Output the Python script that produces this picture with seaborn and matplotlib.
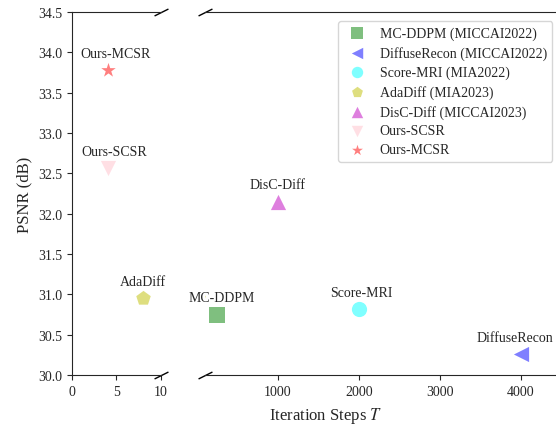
import matplotlib
matplotlib.use('Agg')
import matplotlib.pyplot as plt
import seaborn as sns

# Data
methods = ['MC-DDPM', 'DiffuseRecon', 'Score-MRI', 'AdaDiff', 'DisC-Diff', 'Ours-SCSR', 'Ours-MCSR']
venues = ['MICCAI2022', 'MICCAI2022', 'MIA2022', 'MIA2023', 'MICCAI2023', '', '']
steps = [250, 4000, 2000, 8, 1000, 4, 4]
psnr = [30.75, 30.26, 30.82, 30.95, 32.15, 32.57, 33.78]

colors = ['g', 'b', 'cyan', 'y', 'm', 'pink', 'red']
markers = ['s', '<', 'o', 'p', '^', 'v', '*']
label_dx = [3, -4, 2, 0, 0, 5, 6]

sns.set_style('ticks')
plt.rcParams['font.family'] = ['Liberation Serif', 'DejaVu Serif']
plt.rcParams['mathtext.fontset'] = 'stix'
plt.rcParams['xtick.labelsize'] = 10
plt.rcParams['ytick.labelsize'] = 10

fig = plt.figure(figsize=(5.56, 4.27), dpi=100)
ax1 = fig.add_axes([0.1295, 0.1194, 0.160, 0.850])
ax2 = fig.add_axes([0.3687, 0.1194, 0.641, 0.850], sharey=ax1)

for ax in (ax1, ax2):
    for i, name in enumerate(methods):
        lab = f'{name} ({venues[i]})' if venues[i] else name
        sns.scatterplot(x=[steps[i]], y=[psnr[i]], ax=ax, marker=markers[i],
                        color=colors[i], s=120, alpha=0.5, linewidth=0, label=lab)
    for i, name in enumerate(methods):
        ax.annotate(name, (steps[i], psnr[i]), xytext=(label_dx[i], 12),
                    textcoords='offset points', ha='center', va='center',
                    fontsize=10, annotation_clip=True)

ax1.set_xlim(0, 10)
ax2.set_xlim(100, 4500)
ax1.set_ylim(30.0, 34.5)
ax1.set_yticks([30.0 + 0.5 * k for k in range(10)])
ax1.yaxis.set_major_formatter(plt.FormatStrFormatter('%.1f'))
ax1.set_xticks([0, 5, 10])
ax2.set_xticks([1000, 2000, 3000, 4000])

ax1.spines['right'].set_visible(False)
ax2.spines['left'].set_visible(False)
ax2.spines['right'].set_visible(False)
ax2.spines['top'].set_visible(True)
ax1.spines['top'].set_visible(True)
ax2.tick_params(left=False, labelleft=False)

ax1.set_ylabel('PSNR (dB)', fontsize=12)
ax2.set_ylabel('')
ax1.set_xlabel('')
ax2.set_xlabel('')
fig.text(0.586, 0.025, 'Iteration Steps $T$', ha='center', va='center', fontsize=12)

# break marks
kw = dict(marker=[(-1, -0.5), (1, 0.5)], markersize=10, linestyle='none',
          color='k', mec='k', mew=1, clip_on=False)
ax1.plot([1, 1], [0, 1], transform=ax1.transAxes, **kw)
ax2.plot([0, 0], [0, 1], transform=ax2.transAxes, **kw)

if ax1.get_legend():
    ax1.get_legend().remove()
ax2.legend(loc='upper right', fontsize=10, markerscale=0.75, frameon=True,
           labelspacing=0.42, handletextpad=0.6,
           bbox_to_anchor=(0.994, 0.995))

fig.savefig('out.png', dpi=100)
